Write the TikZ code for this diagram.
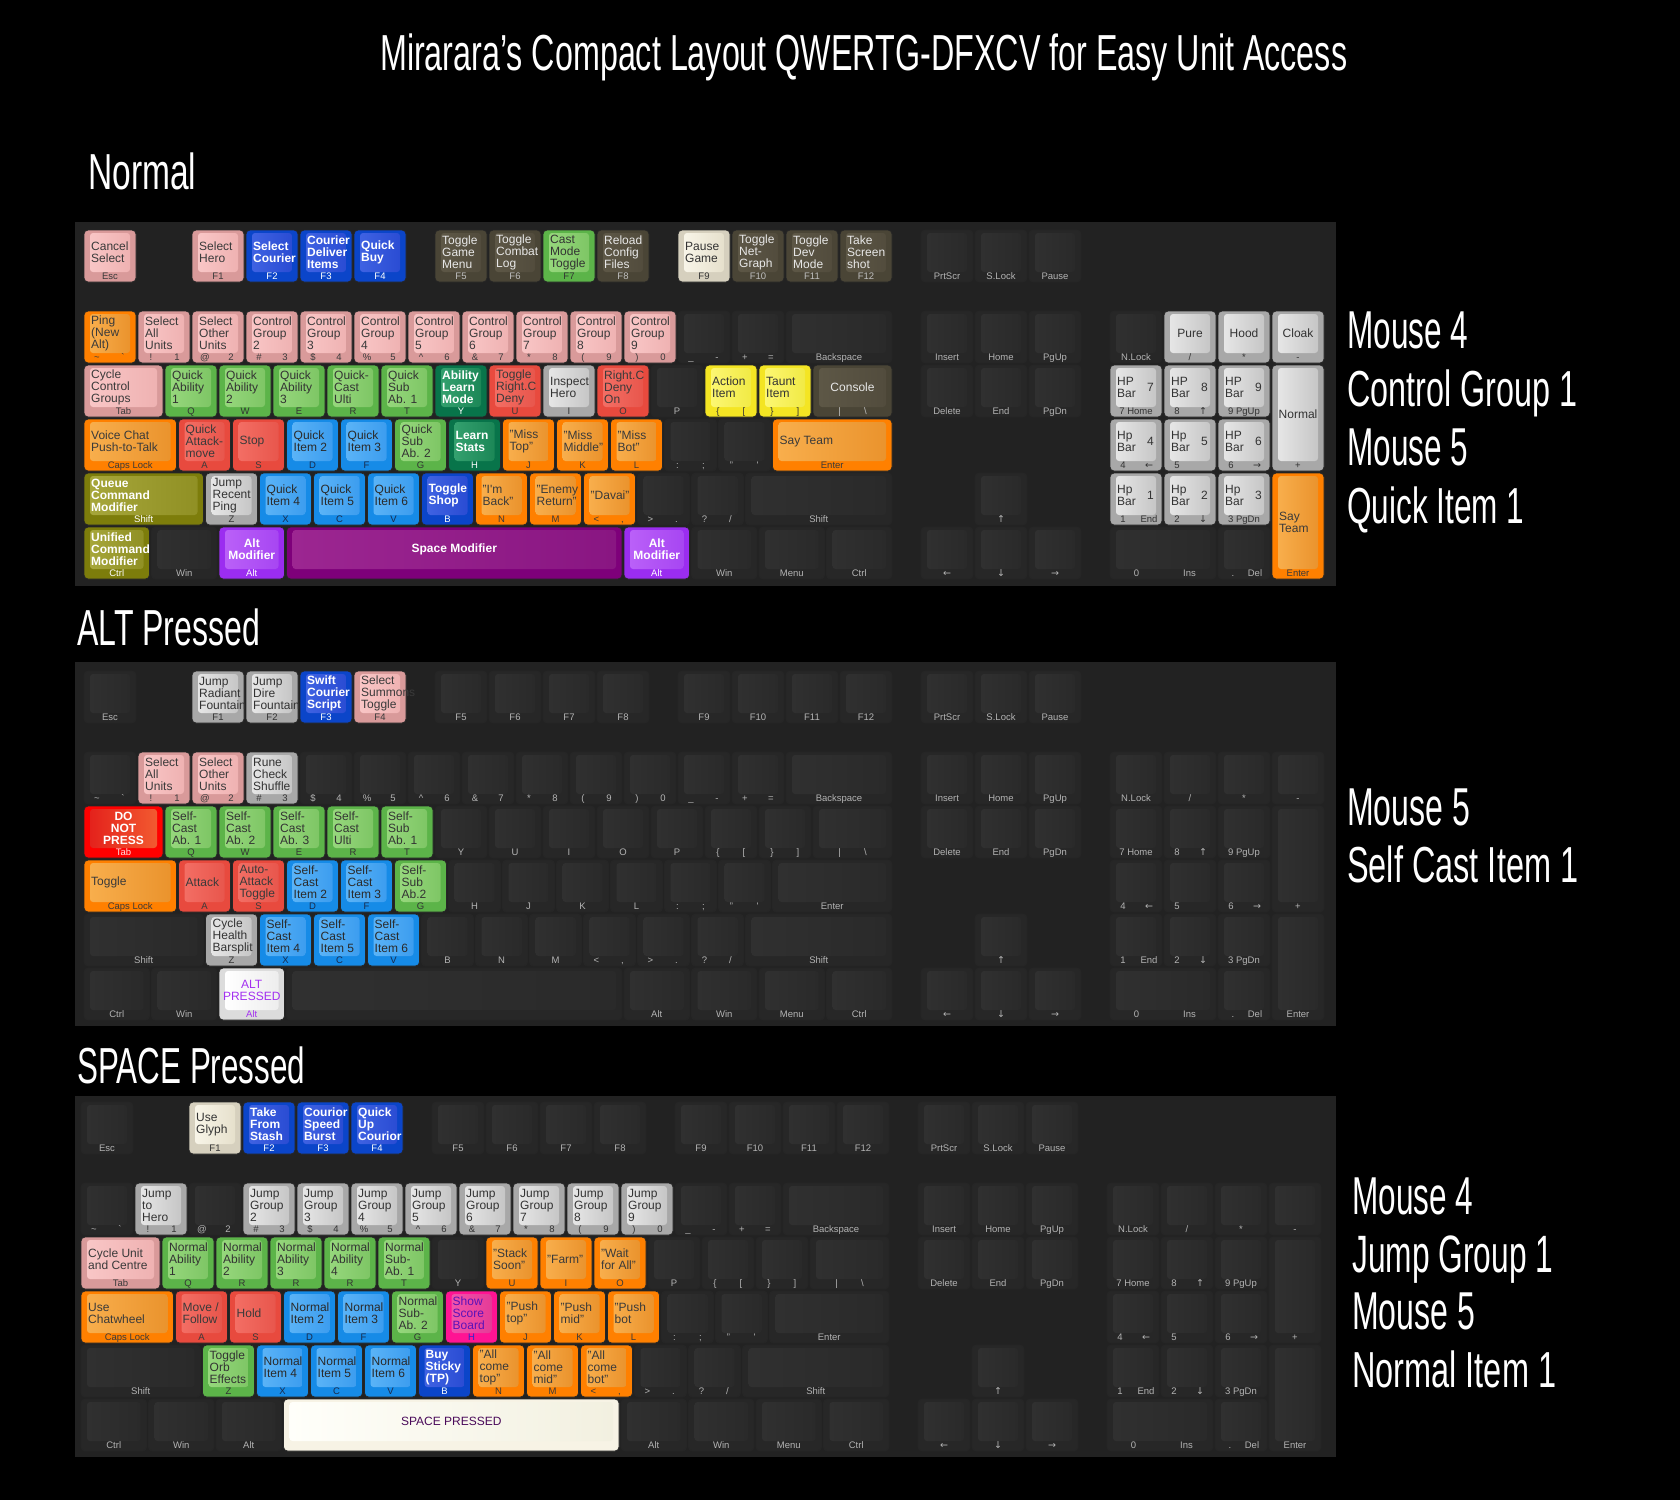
\documentclass[tikz,border=0pt]{standalone}
\usepackage{fontspec}
\setmainfont{Liberation Sans}
\newfontfamily\arrowfont{DejaVu Sans}

\newcommand\keyset[7]{%
  \definecolor{#1O}{HTML}{#2}\definecolor{#1A}{HTML}{#3}\definecolor{#1B}{HTML}{#4}%
  \definecolor{#1T}{HTML}{#5}\definecolor{#1L}{HTML}{#6}%
  \tikzset{t-#1/.style={text=#1T,#7}}}
\keyset{blank}{272727}{303030}{2A2A2A}{B4B4B4}{B4B4B4}{}
\keyset{pink}{D99A9A}{F9C6C6}{EFB2B2}{3A3A3A}{3A3A3A}{}
\keyset{blue}{0B45C9}{3F62E2}{2A4CD3}{FFFFFF}{FFFFFF}{boldtxt}
\keyset{brown}{4A4536}{5D5746}{524C3D}{E8E8E8}{C0C0C0}{}
\keyset{green}{5CB449}{96D77C}{7EC665}{333333}{333333}{}
\keyset{cream}{D6D0BE}{F8F5E8}{E6E0CC}{333333}{333333}{}
\keyset{orange}{FF8000}{F8AE4C}{EA932D}{3A3A3A}{3A3A3A}{}
\keyset{red}{E84A3E}{F36E64}{E8564C}{3A3A3A}{3A3A3A}{}
\keyset{ltblue}{168BE7}{5AB3F7}{3C9DEF}{2A2A2A}{1A2A4A}{}
\keyset{dkgreen}{08744A}{33A06E}{1C8757}{FFFFFF}{FFFFFF}{boldtxt}
\keyset{gray}{A8A8A8}{E6E6E6}{C6C6C6}{333333}{333333}{}
\keyset{yellow}{F4E523}{FCF772}{F1EA45}{333333}{333333}{}
\keyset{olive}{7D7D0B}{A6A63A}{909024}{FFFFFF}{FFFFFF}{boldtxt}
\keyset{purple}{9B2DF0}{BA60F8}{A746F2}{FFFFFF}{FFFFFF}{boldtxt}
\keyset{dkpurple}{7E007A}{9C2691}{891682}{FFFFFF}{FFFFFF}{boldtxt}
\keyset{dnp}{FF0000}{E4221C}{F25A30}{FFFFFF}{FFE0E0}{boldtxt}
\keyset{white}{DCDCDC}{FFFFFF}{EDEDED}{A330F0}{A330F0}{}
\keyset{ivory}{F7F3E5}{FFFFFA}{F2F0E0}{4A0A5A}{4A0A5A}{}
\keyset{magenta}{FF1493}{F153AB}{E53B97}{5A12B8}{2A2ACC}{}
\definecolor{panel}{HTML}{222222}

\tikzset{
  keyrim/.style={draw=black!85,line width=.8,rounded corners=4},
  keyface/.style={rounded corners=3},
  keytxt/.style={font=\fontsize{12}{12}\selectfont,align=left,inner sep=0},
  boldtxt/.style={font=\fontsize{12}{12}\selectfont\bfseries},
  keyleg/.style={font=\fontsize{9.5}{10}\selectfont,inner sep=0},
  bigtxt/.style={text=white,inner sep=0,anchor=base west}
}

\newcount\keyno
\newcommand\lr[3][26pt]{\makebox[#1]{#2}\makebox[#1]{#3}}
\newcommand\arr[1]{{\arrowfont#1}}
\newcommand\keybase[6]{%
  \global\advance\keyno by 1
  \pgfmathsetmacro\xa{#1*54}\pgfmathsetmacro\ya{#2*54}%
  \pgfmathsetmacro\xb{(#1+#3)*54-2}\pgfmathsetmacro\yb{(#2+#4)*54-2}%
  \pgfmathsetmacro\ym{(\ya+\yb-7)/2}%
  \draw[keyrim,fill=#5O] (\xa,\ya) rectangle (\xb,\yb);
  \shade[keyface,left color=#5A,right color=#5B] (\xa+6,\ya+3) rectangle (\xb-6,\yb-10);
  \node[keyleg,text=#5L,anchor=base] (leg\the\keyno) at ({(\xa+\xb)/2},\yb-2.5) {#6};}
\newcommand\kk[7]{\keybase{#1}{#2}{#3}{#4}{#5}{#7}%
  \node[keytxt,t-#5,anchor=west] (key\the\keyno) at (\xa+7,\ym) {#6};}
\newcommand\kc[7]{\keybase{#1}{#2}{#3}{#4}{#5}{#7}%
  \node[keytxt,t-#5,align=center] (key\the\keyno) at ({(\xa+\xb)/2},\ym) {#6};}
\newcommand\hp[5]{\kk{#1}{#2}{1}{1}{gray}{#3}{#5}%
  \node[keytxt,t-gray,anchor=east] (num\the\keyno) at (\xb-8,\ym) {#4};}
\newcommand\bigt[5]{\node[bigtxt] (#1) at (#2,#3) {\resizebox{#4pt}{36.7pt}{#5}};}

\newcommand\fkeys{%
  \foreach \kx/\lg in {6.5/F5,7.5/F6,8.5/F7,9.5/F8,11/F9,12/F10,13/F11,14/F12}
    {\kk{\kx}{0}{1}{1}{blank}{}{\lg}}}
\newcommand\navkeys{%
  \foreach \kx/\ky/\lg in {15.5/0/PrtScr,16.5/0/S.Lock,17.5/0/Pause,15.5/1.5/Insert,
    16.5/1.5/Home,17.5/1.5/PgUp,15.5/2.5/Delete,16.5/2.5/End,17.5/2.5/PgDn,
    16.5/4.5/\arr{↑},15.5/5.5/\arr{←},16.5/5.5/\arr{↓},17.5/5.5/\arr{→}}
    {\kk{\kx}{\ky}{1}{1}{blank}{}{\lg}}}
\newcommand\padkeys{%
  \kk{19}{1.5}{1}{1}{blank}{}{N.Lock}
  \kk{20}{1.5}{1}{1}{blank}{}{/}
  \kk{21}{1.5}{1}{1}{blank}{}{*}
  \kk{22}{1.5}{1}{1}{blank}{}{-}
  \kk{19}{2.5}{1}{1}{blank}{}{7 Home}
  \kk{20}{2.5}{1}{1}{blank}{}{\lr{8}{\arr{↑}}}
  \kk{21}{2.5}{1}{1}{blank}{}{9 PgUp}
  \kk{22}{2.5}{1}{2}{blank}{}{+}
  \kk{19}{3.5}{1}{1}{blank}{}{\lr{4}{\arr{←}}}
  \kk{20}{3.5}{1}{1}{blank}{}{\lr{5}{}}
  \kk{21}{3.5}{1}{1}{blank}{}{\lr{6}{\arr{→}}}
  \kk{19}{4.5}{1}{1}{blank}{}{\lr{1}{End}}
  \kk{20}{4.5}{1}{1}{blank}{}{\lr{2}{\arr{↓}}}
  \kk{21}{4.5}{1}{1}{blank}{}{3 PgDn}
  \kk{22}{4.5}{1}{2}{blank}{}{Enter}
  \kk{19}{5.5}{2}{1}{blank}{}{\lr[53pt]{0}{Ins}}
  \kk{21}{5.5}{1}{1}{blank}{}{\lr[22pt]{.}{Del}}}

\begin{document}
\begin{tikzpicture}[x=1pt,y=-1pt]
  \useasboundingbox (0,0) rectangle (1680,1500);
  \fill[black] (0,0) rectangle (1680,1500);
  \bigt{title}{380}{70}{967}{Mirarara's Compact Layout QWERTG-DFXCV for Easy Unit Access}

  \bigt{normal}{88}{189}{108}{Normal}
  \fill[panel] (75,222) rectangle (1336,586);
  \begin{scope}[shift={(84,230)}]
    \kk{0}{0}{1}{1}{pink}{Cancel\\Select}{Esc}
    \kk{2}{0}{1}{1}{pink}{Select\\Hero}{F1}
    \kk{3}{0}{1}{1}{blue}{Select\\Courier}{F2}
    \kk{4}{0}{1}{1}{blue}{Courier\\Deliver\\Items}{F3}
    \kk{5}{0}{1}{1}{blue}{Quick\\Buy}{F4}
    \kk{6.5}{0}{1}{1}{brown}{Toggle\\Game\\Menu}{F5}
    \kk{7.5}{0}{1}{1}{brown}{Toggle\\Combat\\Log}{F6}
    \kk{8.5}{0}{1}{1}{green}{Cast\\Mode\\Toggle}{F7}
    \kk{9.5}{0}{1}{1}{brown}{Reload\\Config\\Files}{F8}
    \kk{11}{0}{1}{1}{cream}{Pause\\Game}{F9}
    \kk{12}{0}{1}{1}{brown}{Toggle\\Net-\\Graph}{F10}
    \kk{13}{0}{1}{1}{brown}{Toggle\\Dev\\Mode}{F11}
    \kk{14}{0}{1}{1}{brown}{Take\\Screen\\shot}{F12}
    \navkeys
    \kk{0}{1.5}{1}{1}{orange}{Ping\\(New\\Alt)}{\lr{\textasciitilde}{\textasciigrave}}
    \kk{1}{1.5}{1}{1}{pink}{Select\\All\\Units}{\lr{!}{1}}
    \kk{2}{1.5}{1}{1}{pink}{Select\\Other\\Units}{\lr{@}{2}}
    \foreach \kx/\la/\lb in {3/\#/3,4/\$/4,5/\%/5,6/\textasciicircum/6,7/\&/7,8/*/8,9/(/9,10/)/0}
      {\pgfmathtruncatemacro\gn{\kx-1}\kk{\kx}{1.5}{1}{1}{pink}{Control\\Group\\\gn}{\lr{\la}{\lb}}}
    \kk{11}{1.5}{1}{1}{blank}{}{\lr{\_}{-}}
    \kk{12}{1.5}{1}{1}{blank}{}{\lr{+}{=}}
    \kk{13}{1.5}{2}{1}{blank}{}{Backspace}
    \kk{19}{1.5}{1}{1}{blank}{}{N.Lock}
    \kc{20}{1.5}{1}{1}{gray}{Pure}{/}
    \kc{21}{1.5}{1}{1}{gray}{Hood}{*}
    \kc{22}{1.5}{1}{1}{gray}{Cloak}{-}
    \kk{0}{2.5}{1.5}{1}{pink}{Cycle\\Control\\Groups}{Tab}
    \kk{1.5}{2.5}{1}{1}{green}{Quick\\Ability\\1}{Q}
    \kk{2.5}{2.5}{1}{1}{green}{Quick\\Ability\\2}{W}
    \kk{3.5}{2.5}{1}{1}{green}{Quick\\Ability\\3}{E}
    \kk{4.5}{2.5}{1}{1}{green}{Quick-\\Cast\\Ulti}{R}
    \kk{5.5}{2.5}{1}{1}{green}{Quick\\Sub\\Ab. 1}{T}
    \kk{6.5}{2.5}{1}{1}{dkgreen}{Ability\\Learn\\Mode}{Y}
    \kk{7.5}{2.5}{1}{1}{red}{Toggle\\Right.C\\Deny}{U}
    \kk{8.5}{2.5}{1}{1}{gray}{Inspect\\Hero}{I}
    \kk{9.5}{2.5}{1}{1}{red}{Right.C\\Deny\\On}{O}
    \kk{10.5}{2.5}{1}{1}{blank}{}{P}
    \kk{11.5}{2.5}{1}{1}{yellow}{Action\\Item}{\lr{\{}{[}}
    \kk{12.5}{2.5}{1}{1}{yellow}{Taunt\\Item}{\lr{\}}{]}}
    \kc{13.5}{2.5}{1.5}{1}{brown}{Console}{\lr{|}{\textbackslash}}
    \hp{19}{2.5}{HP\\Bar}{7}{7 Home}
    \hp{20}{2.5}{HP\\Bar}{8}{\lr{8}{\arr{↑}}}
    \hp{21}{2.5}{HP\\Bar}{9}{9 PgUp}
    \kc{22}{2.5}{1}{2}{gray}{Normal}{+}
    \kk{0}{3.5}{1.75}{1}{orange}{Voice Chat\\Push-to-Talk}{Caps Lock}
    \kk{1.75}{3.5}{1}{1}{red}{Quick\\Attack-\\move}{A}
    \kk{2.75}{3.5}{1}{1}{red}{Stop}{S}
    \kk{3.75}{3.5}{1}{1}{ltblue}{Quick\\Item 2}{D}
    \kk{4.75}{3.5}{1}{1}{ltblue}{Quick\\Item 3}{F}
    \kk{5.75}{3.5}{1}{1}{green}{Quick\\Sub\\Ab. 2}{G}
    \kk{6.75}{3.5}{1}{1}{dkgreen}{Learn\\Stats}{H}
    \kk{7.75}{3.5}{1}{1}{orange}{"Miss\\Top"}{J}
    \kk{8.75}{3.5}{1}{1}{orange}{"Miss\\Middle"}{K}
    \kk{9.75}{3.5}{1}{1}{orange}{"Miss\\Bot"}{L}
    \kk{10.75}{3.5}{1}{1}{blank}{}{\lr{:}{;}}
    \kk{11.75}{3.5}{1}{1}{blank}{}{\lr{"}{\textquotesingle}}
    \kk{12.75}{3.5}{2.25}{1}{orange}{Say Team}{Enter}
    \hp{19}{3.5}{Hp\\Bar}{4}{\lr{4}{\arr{←}}}
    \hp{20}{3.5}{Hp\\Bar}{5}{\lr{5}{}}
    \hp{21}{3.5}{HP\\Bar}{6}{\lr{6}{\arr{→}}}
    \kk{0}{4.5}{2.25}{1}{olive}{Queue\\Command\\Modifier}{Shift}
    \kk{2.25}{4.5}{1}{1}{gray}{Jump\\Recent\\Ping}{Z}
    \kk{3.25}{4.5}{1}{1}{ltblue}{Quick\\Item 4}{X}
    \kk{4.25}{4.5}{1}{1}{ltblue}{Quick\\Item 5}{C}
    \kk{5.25}{4.5}{1}{1}{ltblue}{Quick\\Item 6}{V}
    \kk{6.25}{4.5}{1}{1}{blue}{Toggle\\Shop}{B}
    \kk{7.25}{4.5}{1}{1}{orange}{"I\textquotesingle m\\Back"}{N}
    \kk{8.25}{4.5}{1}{1}{orange}{"Enemy\\Return"}{M}
    \kk{9.25}{4.5}{1}{1}{orange}{"Davai"}{\lr{<}{,}}
    \kk{10.25}{4.5}{1}{1}{blank}{}{\lr{>}{.}}
    \kk{11.25}{4.5}{1}{1}{blank}{}{\lr{?}{/}}
    \kk{12.25}{4.5}{2.75}{1}{blank}{}{Shift}
    \hp{19}{4.5}{Hp\\Bar}{1}{\lr{1}{End}}
    \hp{20}{4.5}{Hp\\Bar}{2}{\lr{2}{\arr{↓}}}
    \hp{21}{4.5}{Hp\\Bar}{3}{3 PgDn}
    \kk{22}{4.5}{1}{2}{orange}{Say\\Team}{Enter}
    \kk{0}{5.5}{1.25}{1}{olive}{Unified\\Command\\Modifier}{Ctrl}
    \kk{1.25}{5.5}{1.25}{1}{blank}{}{Win}
    \kc{2.5}{5.5}{1.25}{1}{purple}{Alt\\Modifier}{Alt}
    \kc{3.75}{5.5}{6.25}{1}{dkpurple}{Space Modifier}{}
    \kc{10}{5.5}{1.25}{1}{purple}{Alt\\Modifier}{Alt}
    \foreach \kx/\lg in {11.25/Win,12.5/Menu,13.75/Ctrl}
      {\kk{\kx}{5.5}{1.25}{1}{blank}{}{\lg}}
    \kk{19}{5.5}{2}{1}{blank}{}{\lr[53pt]{0}{Ins}}
    \kk{21}{5.5}{1}{1}{blank}{}{\lr[22pt]{.}{Del}}
  \end{scope}
  \bigt{nmA}{1347}{348}{121}{Mouse 4}
  \bigt{nmB}{1347}{406.5}{230}{Control Group 1}
  \bigt{nmC}{1347}{465}{121}{Mouse 5}
  \bigt{nmD}{1347}{523}{177}{Quick Item 1}

  \bigt{altp}{77}{645}{183}{ALT Pressed}
  \fill[panel] (75,662) rectangle (1336,1026);
  \begin{scope}[shift={(84,671)}]
    \kk{0}{0}{1}{1}{blank}{}{Esc}
    \kk{2}{0}{1}{1}{gray}{Jump\\Radiant\\Fountain}{F1}
    \kk{3}{0}{1}{1}{gray}{Jump\\Dire\\Fountain}{F2}
    \kk{4}{0}{1}{1}{blue}{Swift\\Courier\\Script}{F3}
    \kk{5}{0}{1}{1}{pink}{Select\\Summons\\Toggle}{F4}
    \fkeys
    \navkeys
    \kk{0}{1.5}{1}{1}{blank}{}{\lr{\textasciitilde}{\textasciigrave}}
    \kk{1}{1.5}{1}{1}{pink}{Select\\All\\Units}{\lr{!}{1}}
    \kk{2}{1.5}{1}{1}{pink}{Select\\Other\\Units}{\lr{@}{2}}
    \kk{3}{1.5}{1}{1}{gray}{Rune\\Check\\Shuffle}{\lr{\#}{3}}
    \foreach \kx/\la/\lb in {4/\$/4,5/\%/5,6/\textasciicircum/6,7/\&/7,8/*/8,9/(/9,10/)/0,11/\_/-,12/+/=}
      {\kk{\kx}{1.5}{1}{1}{blank}{}{\lr{\la}{\lb}}}
    \kk{13}{1.5}{2}{1}{blank}{}{Backspace}
    \kc{0}{2.5}{1.5}{1}{dnp}{DO\\NOT\\PRESS}{Tab}
    \kk{1.5}{2.5}{1}{1}{green}{Self-\\Cast\\Ab. 1}{Q}
    \kk{2.5}{2.5}{1}{1}{green}{Self-\\Cast\\Ab. 2}{W}
    \kk{3.5}{2.5}{1}{1}{green}{Self-\\Cast\\Ab. 3}{E}
    \kk{4.5}{2.5}{1}{1}{green}{Self-\\Cast\\Ulti}{R}
    \kk{5.5}{2.5}{1}{1}{green}{Self-\\Sub\\Ab. 1}{T}
    \foreach \kx/\lg in {6.5/Y,7.5/U,8.5/I,9.5/O,10.5/P,11.5/\lr{\{}{[},12.5/\lr{\}}{]}}
      {\kk{\kx}{2.5}{1}{1}{blank}{}{\lg}}
    \kk{13.5}{2.5}{1.5}{1}{blank}{}{\lr{|}{\textbackslash}}
    \kk{0}{3.5}{1.75}{1}{orange}{Toggle}{Caps Lock}
    \kk{1.75}{3.5}{1}{1}{red}{Attack}{A}
    \kk{2.75}{3.5}{1}{1}{red}{Auto-\\Attack\\Toggle}{S}
    \kk{3.75}{3.5}{1}{1}{ltblue}{Self-\\Cast\\Item 2}{D}
    \kk{4.75}{3.5}{1}{1}{ltblue}{Self-\\Cast\\Item 3}{F}
    \kk{5.75}{3.5}{1}{1}{green}{Self-\\Sub\\Ab.2}{G}
    \foreach \kx/\lg in {6.75/H,7.75/J,8.75/K,9.75/L,10.75/\lr{:}{;},11.75/\lr{"}{\textquotesingle}}
      {\kk{\kx}{3.5}{1}{1}{blank}{}{\lg}}
    \kk{12.75}{3.5}{2.25}{1}{blank}{}{Enter}
    \kk{0}{4.5}{2.25}{1}{blank}{}{Shift}
    \kk{2.25}{4.5}{1}{1}{gray}{Cycle\\Health\\Barsplit}{Z}
    \kk{3.25}{4.5}{1}{1}{ltblue}{Self-\\Cast\\Item 4}{X}
    \kk{4.25}{4.5}{1}{1}{ltblue}{Self-\\Cast\\Item 5}{C}
    \kk{5.25}{4.5}{1}{1}{ltblue}{Self-\\Cast\\Item 6}{V}
    \foreach \kx/\lg in {6.25/B,7.25/N,8.25/M,9.25/\lr{<}{,},10.25/\lr{>}{.},11.25/\lr{?}{/}}
      {\kk{\kx}{4.5}{1}{1}{blank}{}{\lg}}
    \kk{12.25}{4.5}{2.75}{1}{blank}{}{Shift}
    \kk{0}{5.5}{1.25}{1}{blank}{}{Ctrl}
    \kk{1.25}{5.5}{1.25}{1}{blank}{}{Win}
    \kc{2.5}{5.5}{1.25}{1}{white}{ALT\\PRESSED}{Alt}
    \kk{3.75}{5.5}{6.25}{1}{blank}{}{}
    \foreach \kx/\lg in {10/Alt,11.25/Win,12.5/Menu,13.75/Ctrl}
      {\kk{\kx}{5.5}{1.25}{1}{blank}{}{\lg}}
    \padkeys
  \end{scope}
  \bigt{alA}{1347}{825}{123}{Mouse 5}
  \bigt{alB}{1347}{882}{231}{Self Cast Item 1}

  \bigt{spcp}{77}{1083}{228}{SPACE Pressed}
  \fill[panel] (75,1096) rectangle (1336,1457);
  \begin{scope}[shift={(81,1102)}]
    \kk{0}{0}{1}{1}{blank}{}{Esc}
    \kk{2}{0}{1}{1}{cream}{Use\\Glyph}{F1}
    \kk{3}{0}{1}{1}{blue}{Take\\From\\Stash}{F2}
    \kk{4}{0}{1}{1}{blue}{Courior\\Speed\\Burst}{F3}
    \kk{5}{0}{1}{1}{blue}{Quick\\Up\\Courior}{F4}
    \fkeys
    \navkeys
    \kk{0}{1.5}{1}{1}{blank}{}{\lr{\textasciitilde}{\textasciigrave}}
    \kk{1}{1.5}{1}{1}{gray}{Jump\\to\\Hero}{\lr{!}{1}}
    \kk{2}{1.5}{1}{1}{blank}{}{\lr{@}{2}}
    \foreach \kx/\la/\lb in {3/\#/3,4/\$/4,5/\%/5,6/\textasciicircum/6,7/\&/7,8/*/8,9/(/9,10/)/0}
      {\pgfmathtruncatemacro\gn{\kx-1}\kk{\kx}{1.5}{1}{1}{gray}{Jump\\Group\\\gn}{\lr{\la}{\lb}}}
    \kk{11}{1.5}{1}{1}{blank}{}{\lr{\_}{-}}
    \kk{12}{1.5}{1}{1}{blank}{}{\lr{+}{=}}
    \kk{13}{1.5}{2}{1}{blank}{}{Backspace}
    \kk{0}{2.5}{1.5}{1}{pink}{Cycle Unit\\and Centre}{Tab}
    \kk{1.5}{2.5}{1}{1}{green}{Normal\\Ability\\1}{Q}
    \kk{2.5}{2.5}{1}{1}{green}{Normal\\Ability\\2}{R}
    \kk{3.5}{2.5}{1}{1}{green}{Normal\\Ability\\3}{R}
    \kk{4.5}{2.5}{1}{1}{green}{Normal\\Ability\\4}{R}
    \kk{5.5}{2.5}{1}{1}{green}{Normal\\Sub-\\Ab. 1}{T}
    \kk{6.5}{2.5}{1}{1}{blank}{}{Y}
    \kk{7.5}{2.5}{1}{1}{orange}{"Stack\\Soon"}{U}
    \kk{8.5}{2.5}{1}{1}{orange}{"Farm"}{I}
    \kk{9.5}{2.5}{1}{1}{orange}{"Wait\\for All"}{O}
    \foreach \kx/\lg in {10.5/P,11.5/\lr{\{}{[},12.5/\lr{\}}{]}}
      {\kk{\kx}{2.5}{1}{1}{blank}{}{\lg}}
    \kk{13.5}{2.5}{1.5}{1}{blank}{}{\lr{|}{\textbackslash}}
    \kk{0}{3.5}{1.75}{1}{orange}{Use\\Chatwheel}{Caps Lock}
    \kk{1.75}{3.5}{1}{1}{red}{Move /\\Follow}{A}
    \kk{2.75}{3.5}{1}{1}{red}{Hold}{S}
    \kk{3.75}{3.5}{1}{1}{ltblue}{Normal\\Item 2}{D}
    \kk{4.75}{3.5}{1}{1}{ltblue}{Normal\\Item 3}{F}
    \kk{5.75}{3.5}{1}{1}{green}{Normal\\Sub-\\Ab. 2}{G}
    \kk{6.75}{3.5}{1}{1}{magenta}{Show\\Score\\Board}{H}
    \kk{7.75}{3.5}{1}{1}{orange}{"Push\\top"}{J}
    \kk{8.75}{3.5}{1}{1}{orange}{"Push\\mid"}{K}
    \kk{9.75}{3.5}{1}{1}{orange}{"Push\\bot}{L}
    \kk{10.75}{3.5}{1}{1}{blank}{}{\lr{:}{;}}
    \kk{11.75}{3.5}{1}{1}{blank}{}{\lr{"}{\textquotesingle}}
    \kk{12.75}{3.5}{2.25}{1}{blank}{}{Enter}
    \kk{0}{4.5}{2.25}{1}{blank}{}{Shift}
    \kk{2.25}{4.5}{1}{1}{green}{Toggle\\Orb\\Effects}{Z}
    \kk{3.25}{4.5}{1}{1}{ltblue}{Normal\\Item 4}{X}
    \kk{4.25}{4.5}{1}{1}{ltblue}{Normal\\Item 5}{C}
    \kk{5.25}{4.5}{1}{1}{ltblue}{Normal\\Item 6}{V}
    \kk{6.25}{4.5}{1}{1}{blue}{Buy\\Sticky\\(TP)}{B}
    \kk{7.25}{4.5}{1}{1}{orange}{"All\\come\\top"}{N}
    \kk{8.25}{4.5}{1}{1}{orange}{"All\\come\\mid"}{M}
    \kk{9.25}{4.5}{1}{1}{orange}{"All\\come\\bot"}{\lr{<}{,}}
    \kk{10.25}{4.5}{1}{1}{blank}{}{\lr{>}{.}}
    \kk{11.25}{4.5}{1}{1}{blank}{}{\lr{?}{/}}
    \kk{12.25}{4.5}{2.75}{1}{blank}{}{Shift}
    \foreach \kx/\lg in {0/Ctrl,1.25/Win,2.5/Alt}
      {\kk{\kx}{5.5}{1.25}{1}{blank}{}{\lg}}
    \kc{3.75}{5.5}{6.25}{1}{ivory}{SPACE PRESSED}{}
    \foreach \kx/\lg in {10/Alt,11.25/Win,12.5/Menu,13.75/Ctrl}
      {\kk{\kx}{5.5}{1.25}{1}{blank}{}{\lg}}
    \padkeys
  \end{scope}
  \bigt{spA}{1352}{1214}{121}{Mouse 4}
  \bigt{spB}{1352}{1272}{201}{Jump Group 1}
  \bigt{spC}{1352}{1329}{123}{Mouse 5}
  \bigt{spD}{1352}{1387}{204}{Normal Item 1}
\end{tikzpicture}
\end{document}
